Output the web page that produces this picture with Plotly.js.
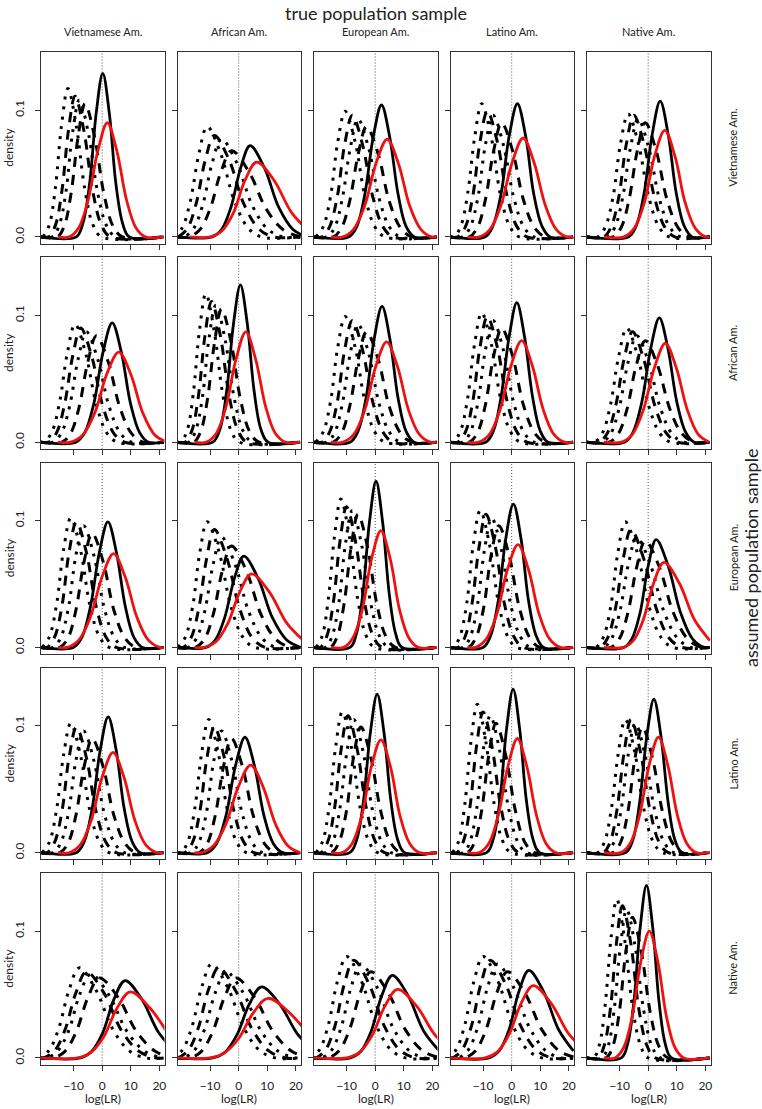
<!DOCTYPE html>
<html><head><meta charset="utf-8">
<script src="https://cdn.plot.ly/plotly-3.0.1.min.js"></script>
<style>html,body{margin:0;padding:0;background:#fff}#chart{width:762px;height:1109px}</style>
</head><body><div id="chart"></div>
<script>
// populations (columns = true population sample, rows = assumed population sample)
const populations = ["Vietnamese Am.", "African Am.", "European Am.", "Latino Am.", "Native Am."];
const xTickVals = [-10, 0, 10, 20];
const yTickVals = [0, 0.1];
const yTickText = ["0.0", "0.1"];

// Curves per panel, panel index = row*5 + col (row = assumed, col = true)
// leftmost dotted curve
const dot1X = [
[-20.7,-18.5,-16.4,-14.2,-12,-9.1,-6.1,-3.2,-0.2,21.5],
[-22.7,-19.8,-16.9,-13.9,-11,-6.3,-1.5,3.3,8,21.5],
[-20.8,-18.2,-15.6,-13.1,-10.5,-7,-3.6,-0.1,3.4,21.5],
[-21.5,-20.2,-17.8,-15.4,-12.9,-10.5,-7.2,-4,-0.7,2.6,21.5],
[-21.5,-17.6,-15,-12.3,-9.7,-7,-3.4,0.2,3.8,7.3,21.5],
[-21.5,-20.4,-17.7,-15,-12.2,-9.5,-5.8,-2.1,1.6,5.3,21.5],
[-21.5,-20.2,-18,-15.9,-13.7,-11.5,-8.6,-5.6,-2.7,0.3,21.5],
[-20.8,-18.2,-15.6,-13.1,-10.5,-7,-3.6,-0.1,3.4,21.5],
[-21.5,-20.5,-18,-15.5,-13,-10.5,-7.1,-3.8,-0.4,3,21.5],
[-21.5,-18.8,-16,-13.2,-10.3,-7.5,-3.7,0.1,4,7.8,21.5],
[-21,-18.5,-16,-13.5,-11,-7.6,-4.3,-0.9,2.5,21.5],
[-21.3,-18.7,-16.1,-13.6,-11,-6.8,-2.7,1.5,5.7,21.5],
[-20.7,-18.5,-16.4,-14.2,-12,-9.1,-6.1,-3.2,-0.2,21.5],
[-21.5,-20.4,-18.1,-15.7,-13.4,-11,-7.8,-4.6,-1.4,1.8,21.5],
[-21.5,-18.3,-15.7,-13.1,-10.6,-8,-3.8,0.3,4.5,8.7,21.5],
[-21,-18.5,-16,-13.5,-11,-7.6,-4.3,-0.9,2.5,21.5],
[-21.5,-20.2,-17.8,-15.4,-12.9,-10.5,-7.2,-4,-0.7,2.6,21.5],
[-20.7,-18.4,-16.1,-13.8,-11.5,-8.4,-5.3,-2.2,0.9,21.5],
[-20.7,-18.5,-16.4,-14.2,-12,-9.1,-6.1,-3.2,-0.2,21.5],
[-21.5,-17.7,-15.3,-12.9,-10.4,-8,-4.7,-1.5,1.8,5.1,21.5],
[-22.3,-18.7,-15.2,-11.6,-8,-2.2,3.6,9.4,15.3,21.5],
[-23.2,-19.8,-16.4,-12.9,-9.5,-3.9,1.7,7.3,12.8,21.5],
[-22.7,-19.5,-16.4,-13.2,-10,-4.8,0.3,5.5,10.6,21.5],
[-22.7,-19.5,-16.4,-13.2,-10,-4.8,0.3,5.5,10.6,21.5],
[-21.5,-19.1,-17.1,-15.1,-13,-11,-8.3,-5.5,-2.7,0,21.5]
];
const dot1Y = [
[0,.0094,.038,.0883,.117,.0883,.038,.0094,0,0],
[0,.007,.0283,.0657,.087,.0657,.0283,.007,0,0],
[0,.0079,.0322,.0747,.099,.0747,.0322,.0079,0,0],
[0,0,.0084,.0341,.0793,.105,.0793,.0341,.0084,0,0],
[0,0,.0078,.0315,.0732,.097,.0732,.0315,.0078,0,0],
[0,0,.0074,.0302,.0702,.093,.0702,.0302,.0074,0,0],
[0,0,.0094,.038,.0883,.117,.0883,.038,.0094,0,0],
[0,.0079,.0322,.0747,.099,.0747,.0322,.0079,0,0],
[0,0,.0082,.0332,.077,.102,.077,.0332,.0082,0,0],
[0,0,.0072,.0293,.068,.09,.068,.0293,.0072,0,0],
[0,.0082,.0332,.077,.102,.077,.0332,.0082,0,0],
[0,.0079,.0322,.0747,.099,.0747,.0322,.0079,0,0],
[0,.0094,.038,.0883,.117,.0883,.038,.0094,0,0],
[0,0,.0086,.0351,.0815,.108,.0815,.0351,.0086,0,0],
[0,0,.0079,.0322,.0747,.099,.0747,.0322,.0079,0,0],
[0,.0082,.0332,.077,.102,.077,.0332,.0082,0,0],
[0,0,.0084,.0341,.0793,.105,.0793,.0341,.0084,0,0],
[0,.0089,.0361,.0838,.111,.0838,.0361,.0089,0,0],
[0,.0094,.038,.0883,.117,.0883,.038,.0094,0,0],
[0,0,.0084,.0341,.0793,.105,.0793,.0341,.0084,0,0],
[0,.0057,.0231,.0536,.071,.0536,.0231,.0057,0,0],
[0,.0059,.0241,.0559,.074,.0559,.0241,.0059,0,0],
[0,.0064,.026,.0604,.08,.0604,.026,.0064,0,0],
[0,.0064,.026,.0604,.08,.0604,.026,.0064,0,0],
[0,0,.01,.0406,.0944,.125,.0944,.0406,.01,0,0]
];
// first dashed curve
const dash1X = [
[-21.5,-18.7,-16.4,-14.1,-11.8,-9.5,-6.4,-3.3,-0.2,2.9,21.5],
[-21.2,-18,-14.9,-11.7,-8.5,-3.3,1.8,7,12.1,21.5],
[-21.5,-18.6,-16,-13.3,-10.7,-8,-4.4,-0.8,2.8,6.3,21.5],
[-21.5,-18.8,-16.2,-13.6,-11.1,-8.5,-5,-1.6,1.9,5.4,21.5],
[-21.5,-15.6,-13,-10.3,-7.7,-5,-1.4,2.2,5.8,9.3,21.5],
[-21.5,-18.8,-16,-13.2,-10.3,-7.5,-3.7,0.1,4,7.8,21.5],
[-21.5,-18.7,-16.4,-14.1,-11.8,-9.5,-6.4,-3.3,-0.2,2.9,21.5],
[-21.5,-18.6,-16,-13.3,-10.7,-8,-4.4,-0.8,2.8,6.3,21.5],
[-21.5,-18.8,-16.2,-13.6,-11.1,-8.5,-5,-1.6,1.9,5.4,21.5],
[-21.5,-17.2,-14.3,-11.4,-8.4,-5.5,-1.6,2.4,6.4,10.3,21.5],
[-21.5,-19.3,-16.7,-14.1,-11.6,-9,-5.5,-2.1,1.4,4.9,21.5],
[-21.5,-19.4,-16.7,-14,-11.2,-8.5,-4.1,0.4,4.8,9.3,21.5],
[-21.5,-19.2,-16.9,-14.6,-12.3,-10,-6.9,-3.8,-0.7,2.4,21.5],
[-21.5,-18.7,-16.3,-13.9,-11.4,-9,-5.7,-2.5,0.8,4.1,21.5],
[-21.5,-16.9,-14.2,-11.5,-8.7,-6,-1.6,2.9,7.3,11.8,21.5],
[-21.5,-19.3,-16.7,-14.1,-11.6,-9,-5.5,-2.1,1.4,4.9,21.5],
[-21.5,-18.8,-16.2,-13.6,-11.1,-8.5,-5,-1.6,1.9,5.4,21.5],
[-21.5,-18.9,-16.6,-14.2,-11.9,-9.5,-6.3,-3.1,0.1,3.3,21.5],
[-21.5,-19.2,-16.9,-14.6,-12.3,-10,-6.9,-3.8,-0.7,2.4,21.5],
[-21.5,-15.7,-13.3,-10.9,-8.4,-6,-2.7,0.6,3.8,7.1,21.5],
[-21.5,-20.5,-16.7,-13,-9.2,-5.5,0.6,6.6,12.7,18.9,21.5],
[-21.5,-21.3,-17.7,-14.2,-10.6,-7,-1.2,4.6,10.4,16.3,21.5],
[-21.5,-20.7,-17.4,-14.1,-10.8,-7.5,-2.1,3.2,8.6,14,21.5],
[-21.5,-20.7,-17.4,-14.1,-10.8,-7.5,-2.1,3.2,8.6,14,21.5],
[-21.5,-17.5,-15.4,-13.2,-11.1,-9,-6.1,-3.3,-0.4,2.5,21.5]
];
const dash1Y = [
[0,0,.0089,.0361,.0838,.111,.0838,.0361,.0089,0,0],
[0,.0064,.026,.0604,.08,.0604,.026,.0064,0,0],
[0,0,.0077,.0312,.0725,.096,.0725,.0312,.0077,0,0],
[0,0,.0079,.0322,.0747,.099,.0747,.0322,.0079,0,0],
[0,0,.0077,.0312,.0725,.096,.0725,.0312,.0077,0,0],
[0,0,.0072,.0293,.068,.09,.068,.0293,.0072,0,0],
[0,0,.0089,.0361,.0838,.111,.0838,.0361,.0089,0,0],
[0,0,.0077,.0312,.0725,.096,.0725,.0312,.0077,0,0],
[0,0,.0079,.0322,.0747,.099,.0747,.0322,.0079,0,0],
[0,0,.007,.0283,.0657,.087,.0657,.0283,.007,0,0],
[0,0,.0079,.0322,.0747,.099,.0747,.0322,.0079,0,0],
[0,0,.0074,.0302,.0702,.093,.0702,.0302,.0074,0,0],
[0,0,.0089,.0361,.0838,.111,.0838,.0361,.0089,0,0],
[0,0,.0084,.0341,.0793,.105,.0793,.0341,.0084,0,0],
[0,0,.0074,.0302,.0702,.093,.0702,.0302,.0074,0,0],
[0,0,.0079,.0322,.0747,.099,.0747,.0322,.0079,0,0],
[0,0,.0079,.0322,.0747,.099,.0747,.0322,.0079,0,0],
[0,0,.0086,.0351,.0815,.108,.0815,.0351,.0086,0,0],
[0,0,.0089,.0361,.0838,.111,.0838,.0361,.0089,0,0],
[0,0,.0084,.0341,.0793,.105,.0793,.0341,.0084,0,0],
[0,0,.0054,.0221,.0513,.068,.0513,.0221,.0054,0,0],
[0,0,.0057,.0231,.0536,.071,.0536,.0231,.0057,0,0],
[0,0,.0062,.025,.0581,.077,.0581,.025,.0062,0,0],
[0,0,.0062,.025,.0581,.077,.0581,.025,.0062,0,0],
[0,0,.0096,.039,.0906,.12,.0906,.039,.0096,0,0]
];
// second dotted curve
const dot2X = [
[-21.5,-17.4,-15.1,-12.7,-10.4,-8,-4.8,-1.6,1.6,4.8,21.5],
[-21.5,-19.2,-15.9,-12.6,-9.3,-6,-0.6,4.7,10.1,15.5,21.5],
[-21.5,-16.9,-14.2,-11.5,-8.7,-6,-2.3,1.4,5.1,8.8,21.5],
[-21.5,-17.1,-14.5,-11.8,-9.2,-6.5,-2.9,0.7,4.3,7.8,21.5],
[-21.5,-14.4,-11.7,-9,-6.2,-3.5,0.2,3.9,7.6,11.3,21.5],
[-21.5,-17.2,-14.3,-11.4,-8.4,-5.5,-1.6,2.4,6.4,10.3,21.5],
[-21.5,-17.4,-15.1,-12.7,-10.4,-8,-4.8,-1.6,1.6,4.8,21.5],
[-21.5,-16.9,-14.2,-11.5,-8.7,-6,-2.3,1.4,5.1,8.8,21.5],
[-21.5,-17.1,-14.5,-11.8,-9.2,-6.5,-2.9,0.7,4.3,7.8,21.5],
[-21.5,-16.1,-13.1,-10.1,-7,-4,0.1,4.2,8.3,12.4,21.5],
[-21.5,-17.1,-14.5,-11.8,-9.2,-6.5,-2.9,0.7,4.3,7.8,21.5],
[-21.5,-17.7,-14.8,-11.9,-8.9,-6,-1.3,3.5,8.3,13,21.5],
[-21.5,-17.4,-15.1,-12.7,-10.4,-8,-4.8,-1.6,1.6,4.8,21.5],
[-21.5,-17,-14.5,-12,-9.5,-7,-3.6,-0.3,3.1,6.5,21.5],
[-21.5,-15.7,-12.8,-9.9,-6.9,-4,0.7,5.5,10.3,15,21.5],
[-21.5,-17.1,-14.5,-11.8,-9.2,-6.5,-2.9,0.7,4.3,7.8,21.5],
[-21.5,-16.6,-14,-11.3,-8.7,-6,-2.4,1.2,4.8,8.3,21.5],
[-21.5,-17.2,-14.8,-12.4,-9.9,-7.5,-4.2,-1,2.3,5.6,21.5],
[-21.5,-16.9,-14.6,-12.2,-9.9,-7.5,-4.3,-1.1,2.1,5.3,21.5],
[-21.5,-14.5,-12,-9.5,-7,-4.5,-1.1,2.3,5.6,9,21.5],
[-21.5,-19.4,-15.6,-11.7,-7.9,-4,2.3,8.5,14.8,21.1,21.5],
[-21.5,-19.5,-15.7,-12,-8.2,-4.5,1.6,7.6,13.7,19.9,21.5],
[-21.5,-18.7,-15.3,-11.9,-8.4,-5,0.6,6.2,11.8,17.3,21.5],
[-21.5,-18.7,-15.3,-11.9,-8.4,-5,0.6,6.2,11.8,17.3,21.5],
[-21.5,-16.2,-14,-11.9,-9.7,-7.5,-4.6,-1.6,1.3,4.3,21.5]
];
const dot2Y = [
[0,0,.0086,.0351,.0815,.108,.0815,.0351,.0086,0,0],
[0,0,.0062,.025,.0581,.077,.0581,.025,.0062,0,0],
[0,0,.0074,.0302,.0702,.093,.0702,.0302,.0074,0,0],
[0,0,.0077,.0312,.0725,.096,.0725,.0312,.0077,0,0],
[0,0,.0074,.0302,.0702,.093,.0702,.0302,.0074,0,0],
[0,0,.007,.0283,.0657,.087,.0657,.0283,.007,0,0],
[0,0,.0086,.0351,.0815,.108,.0815,.0351,.0086,0,0],
[0,0,.0074,.0302,.0702,.093,.0702,.0302,.0074,0,0],
[0,0,.0077,.0312,.0725,.096,.0725,.0312,.0077,0,0],
[0,0,.0067,.0273,.0634,.084,.0634,.0273,.0067,0,0],
[0,0,.0077,.0312,.0725,.096,.0725,.0312,.0077,0,0],
[0,0,.007,.0283,.0657,.087,.0657,.0283,.007,0,0],
[0,0,.0086,.0351,.0815,.108,.0815,.0351,.0086,0,0],
[0,0,.0082,.0332,.077,.102,.077,.0332,.0082,0,0],
[0,0,.007,.0283,.0657,.087,.0657,.0283,.007,0,0],
[0,0,.0077,.0312,.0725,.096,.0725,.0312,.0077,0,0],
[0,0,.0077,.0312,.0725,.096,.0725,.0312,.0077,0,0],
[0,0,.0084,.0341,.0793,.105,.0793,.0341,.0084,0,0],
[0,0,.0086,.0351,.0815,.108,.0815,.0351,.0086,0,0],
[0,0,.0082,.0332,.077,.102,.077,.0332,.0082,0,0],
[0,0,.0053,.0215,.0498,.066,.0498,.0215,.0053,0,0],
[0,0,.0054,.0221,.0513,.068,.0513,.0221,.0054,0,0],
[0,0,.0059,.0241,.0559,.074,.0559,.0241,.0059,0,0],
[0,0,.0059,.0241,.0559,.074,.0559,.0241,.0059,0,0],
[0,0,.0094,.038,.0883,.117,.0883,.038,.0094,0,0]
];
// second dashed curve
const dash2X = [
[-21.5,-15.7,-13.3,-10.9,-8.4,-6,-2.7,0.6,3.8,7.1,21.5],
[-21.5,-17.5,-13.7,-10,-6.2,-2.5,3.6,9.6,15.7,21.9],
[-21.5,-14.7,-11.8,-8.9,-5.9,-3,1,4.9,8.9,12.8,21.5],
[-21.5,-14.8,-12,-9.2,-6.3,-3.5,0.3,4.1,8,11.8,21.5],
[-21.5,-12.3,-9.5,-6.7,-3.8,-1,2.8,6.6,10.5,14.3,21.5],
[-21.5,-14.1,-11.1,-8.1,-5,-2,2.1,6.2,10.3,14.4,21.5],
[-21.5,-15.7,-13.3,-10.9,-8.4,-6,-2.7,0.6,3.8,7.1,21.5],
[-21.5,-14.7,-11.8,-8.9,-5.9,-3,1,4.9,8.9,12.8,21.5],
[-21.5,-14.8,-12,-9.2,-6.3,-3.5,0.3,4.1,8,11.8,21.5],
[-21.5,-13.7,-10.5,-7.4,-4.2,-1,3.3,7.6,11.9,16.2,21.5],
[-21.5,-14.8,-12,-9.2,-6.3,-3.5,0.3,4.1,8,11.8,21.5],
[-21.5,-15.2,-12,-8.9,-5.7,-2.5,2.7,7.8,13,18.1,21.5],
[-21.5,-15.7,-13.3,-10.9,-8.4,-6,-2.7,0.6,3.8,7.1,21.5],
[-21.5,-15.1,-12.5,-9.8,-7.2,-4.5,-0.9,2.7,6.3,9.8,21.5],
[-21.5,-13.1,-10.1,-7.1,-4,-1,3.9,8.8,13.8,18.7,21.5],
[-21.5,-14.8,-12,-9.2,-6.3,-3.5,0.3,4.1,8,11.8,21.5],
[-21.5,-13.8,-11,-8.2,-5.3,-2.5,1.3,5.1,9,12.8,21.5],
[-21.5,-15.3,-12.7,-10.1,-7.6,-5,-1.5,2,5.4,8.9,21.5],
[-21.5,-15.5,-13,-10.5,-8,-5.5,-2.1,1.3,4.6,8,21.5],
[-21.5,-12.3,-9.7,-7.1,-4.6,-2,1.5,5,8.4,11.9,21.5],
[-21.5,-17.1,-13.1,-9.1,-5,-1,5.6,12.1,18.7,25.3],
[-21.5,-17.1,-13.1,-9.1,-5,-1,5.6,12.1,18.7,25.3],
[-21.5,-16.5,-12.7,-9,-5.2,-1.5,4.6,10.6,16.7,22.9],
[-21.5,-16.5,-12.7,-9,-5.2,-1.5,4.6,10.6,16.7,22.9],
[-21.5,-14.7,-12.4,-10.1,-7.8,-5.5,-2.4,0.7,3.8,6.9,21.5]
];
const dash2Y = [
[0,0,.0084,.0341,.0793,.105,.0793,.0341,.0084,0,0],
[0,0,.0054,.0221,.0513,.068,.0513,.0221,.0054,0],
[0,0,.007,.0283,.0657,.087,.0657,.0283,.007,0,0],
[0,0,.0072,.0293,.068,.09,.068,.0293,.0072,0,0],
[0,0,.0072,.0293,.068,.09,.068,.0293,.0072,0,0],
[0,0,.0067,.0273,.0634,.084,.0634,.0273,.0067,0,0],
[0,0,.0084,.0341,.0793,.105,.0793,.0341,.0084,0,0],
[0,0,.007,.0283,.0657,.087,.0657,.0283,.007,0,0],
[0,0,.0072,.0293,.068,.09,.068,.0293,.0072,0,0],
[0,0,.0064,.026,.0604,.08,.0604,.026,.0064,0,0],
[0,0,.0072,.0293,.068,.09,.068,.0293,.0072,0,0],
[0,0,.0064,.026,.0604,.08,.0604,.026,.0064,0,0],
[0,0,.0084,.0341,.0793,.105,.0793,.0341,.0084,0,0],
[0,0,.0077,.0312,.0725,.096,.0725,.0312,.0077,0,0],
[0,0,.0067,.0273,.0634,.084,.0634,.0273,.0067,0,0],
[0,0,.0072,.0293,.068,.09,.068,.0293,.0072,0,0],
[0,0,.0072,.0293,.068,.09,.068,.0293,.0072,0,0],
[0,0,.0079,.0322,.0747,.099,.0747,.0322,.0079,0,0],
[0,0,.0082,.0332,.077,.102,.077,.0332,.0082,0,0],
[0,0,.0079,.0322,.0747,.099,.0747,.0322,.0079,0,0],
[0,0,.005,.0205,.0476,.063,.0476,.0205,.005,0],
[0,0,.005,.0205,.0476,.063,.0476,.0205,.005,0],
[0,0,.0054,.0221,.0513,.068,.0513,.0221,.0054,0],
[0,0,.0054,.0221,.0513,.068,.0513,.0221,.0054,0],
[0,0,.0089,.0361,.0838,.111,.0838,.0361,.0089,0,0]
];
// solid black curve
const solidX = [
[-21.5,-9.1,-6.8,-4.4,-2.1,0.2,2.5,4.8,7.2,9.5,21.5],
[-21.5,-9.3,-6,-2.7,0.7,4,9,14,19,23.9],
[-21.5,-9.3,-6.4,-3.6,-0.7,2.2,5.1,8,10.8,13.7,21.5],
[-21.5,-9.4,-6.6,-3.7,-0.9,2,4.9,7.7,10.6,13.4,21.5],
[-21.5,-7,-4.2,-1.4,1.4,4.2,7,9.8,12.6,15.4,21.5],
[-21.5,-9.2,-6.1,-2.9,0.3,3.5,6.7,9.9,13.1,16.2,21.5],
[-21.5,-9.1,-6.6,-4.2,-1.8,0.6,3,5.4,7.8,10.3,21.5],
[-21.5,-8.8,-6,-3.2,-0.4,2.4,5.2,8,10.8,13.6,21.5],
[-21.5,-9.1,-6.4,-3.7,-0.9,1.8,4.5,7.3,10,12.7,21.5],
[-21.5,-8.3,-5.3,-2.2,0.9,3.9,6.9,10,13.1,16.1,21.5],
[-21.5,-10.1,-7.1,-4.1,-1,2,5,8.1,11.1,14.1,21.5],
[-21.5,-11.5,-8.2,-4.9,-1.5,1.8,6.8,11.8,16.8,21.7],
[-21.5,-8.8,-6.6,-4.3,-2,0.3,2.6,4.9,7.2,9.4,21.5],
[-21.5,-10,-7.4,-4.7,-2.1,0.6,3.3,5.9,8.6,11.2,21.5],
[-21.5,-8.5,-5.7,-2.8,0,2.8,7,11.3,15.5,19.7,21.5],
[-21.5,-9.1,-6.3,-3.5,-0.7,2.1,4.9,7.7,10.5,13.3,21.5],
[-21.5,-11,-7.7,-4.4,-1.1,2.2,5.5,8.8,12.1,15.4,21.5],
[-21.5,-8.9,-6.5,-4.1,-1.7,0.7,3.1,5.5,7.9,10.3,21.5],
[-21.5,-8.8,-6.5,-4.1,-1.8,0.5,2.8,5.1,7.5,9.8,21.5],
[-21.5,-7.9,-5.4,-3,-0.5,2,4.5,7,9.4,11.9,21.5],
[-21.5,-7.7,-3.8,0.2,4.1,8,13.9,19.8,25.7],
[-21.5,-9.1,-4.8,-0.6,3.7,8,14.4,20.8,27.2],
[-21.5,-8.7,-5,-1.4,2.3,6,11.5,17,22.6],
[-21.5,-7.9,-4.4,-0.9,2.5,6,11.2,16.4,21.6],
[-21.5,-9.4,-7.2,-5,-2.8,-0.6,1.6,3.8,6,8.2,21.5]
];
const solidY = [
[0,0,.0103,.0419,.0974,.129,.0974,.0419,.0103,0,0],
[0,0,.0058,.0234,.0544,.072,.0544,.0234,.0058,0],
[0,0,.0083,.0338,.0785,.104,.0785,.0338,.0083,0,0],
[0,0,.0084,.0341,.0793,.105,.0793,.0341,.0084,0,0],
[0,0,.0086,.0348,.0808,.107,.0808,.0348,.0086,0,0],
[0,0,.0075,.0306,.071,.094,.071,.0306,.0075,0,0],
[0,0,.0099,.0403,.0936,.124,.0936,.0403,.0099,0,0],
[0,0,.0086,.0348,.0808,.107,.0808,.0348,.0086,0,0],
[0,0,.0088,.0358,.0831,.11,.0831,.0358,.0088,0,0],
[0,0,.0078,.0319,.074,.098,.074,.0319,.0078,0,0],
[0,0,.0079,.0322,.0747,.099,.0747,.0322,.0079,0,0],
[0,0,.0058,.0234,.0544,.072,.0544,.0234,.0058,0],
[0,0,.0105,.0426,.0989,.131,.0989,.0426,.0105,0,0],
[0,0,.009,.0367,.0853,.113,.0853,.0367,.009,0,0],
[0,0,.0068,.0276,.0642,.085,.0642,.0276,.0068,0,0],
[0,0,.0086,.0348,.0808,.107,.0808,.0348,.0086,0,0],
[0,0,.0073,.0296,.0687,.091,.0687,.0296,.0073,0,0],
[0,0,.01,.0406,.0944,.125,.0944,.0406,.01,0,0],
[0,0,.0103,.0419,.0974,.129,.0974,.0419,.0103,0,0],
[0,0,.0097,.0393,.0914,.121,.0914,.0393,.0097,0,0],
[0,0,.0049,.0198,.0461,.061,.0461,.0198,.0049],
[0,0,.0045,.0182,.0423,.056,.0423,.0182,.0045],
[0,0,.0052,.0211,.0491,.065,.0491,.0211,.0052],
[0,0,.0055,.0224,.0521,.069,.0521,.0224,.0055],
[0,0,.0109,.0442,.1027,.136,.1027,.0442,.0109,0,0]
];
// red curve
const redX = [
[-15.5,-11.5,-8.2,-4.9,-1.5,1.8,5.1,8.5,11.8,15.1,21.5],
[-17,-9.9,-5.9,-1.8,2.2,6.3,12.4,18.5,24.6],
[-15.5,-11.3,-7.5,-3.6,0.3,4.2,8.1,12,15.9,19.7,21.5],
[-15.5,-11.3,-7.5,-3.7,0.2,4,7.8,11.7,15.5,19.3,21.5],
[-15.5,-8.5,-4.9,-1.3,2.2,5.8,9.4,12.9,16.5,20.1,21.5],
[-15.5,-11.1,-6.8,-2.6,1.6,5.8,10,14.2,18.4,22.7],
[-15.5,-11.3,-7.8,-4.4,-0.9,2.5,5.9,9.4,12.8,16.3,21.5],
[-15.5,-11.2,-7.4,-3.6,0.2,4,7.8,11.6,15.4,19.2,21.5],
[-15.5,-11.5,-7.7,-4,-0.2,3.5,7.2,11,14.7,18.5,21.5],
[-15.5,-9.3,-5.5,-1.7,2.2,6,9.8,13.7,17.5,21.3],
[-15.5,-12.2,-8.1,-4.1,0,4,8,12.1,16.1,20.2,21.5],
[-15.5,-12,-7.9,-3.8,0.4,4.5,10.7,16.9,23.1],
[-15.5,-11,-7.8,-4.5,-1.3,2,5.3,8.5,11.8,15,21.5],
[-15.5,-12.6,-8.9,-5.2,-1.5,2.2,5.9,9.6,13.3,17,21.5],
[-15.5,-8.8,-5.2,-1.7,1.9,5.5,10.9,16.2,21.6],
[-15.5,-11.4,-7.6,-3.8,0,3.8,7.6,11.4,15.2,19,21.5],
[-15.5,-13.1,-8.8,-4.5,-0.1,4.2,8.5,12.9,17.2,21.5],
[-15.5,-11.5,-8.1,-4.7,-1.4,2,5.4,8.7,12.1,15.5,21.5],
[-15.5,-11.3,-8,-4.7,-1.3,2,5.3,8.7,12,15.3,21.5],
[-15.5,-9.6,-6.3,-3,0.3,3.6,6.9,10.2,13.5,16.8,21.5],
[-21.5,-8.6,-4,0.6,5.2,9.8,16.7,23.6],
[-21.5,-10.2,-5.1,0,5.1,10.2,17.8,25.5],
[-21.5,-9.9,-5.5,-1.1,3.4,7.8,14.5,21.1,27.7],
[-21.5,-9.3,-5.1,-0.9,3.3,7.5,13.8,20.1,26.4],
[-15.5,-11.6,-8.6,-5.6,-2.6,0.4,3.4,6.4,9.4,12.4,21.5]
];
const redY = [
[0,0,.0072,.0293,.068,.09,.068,.0293,.0072,0,0],
[0,0,.0047,.0192,.0445,.059,.0445,.0192,.0047],
[0,0,.0062,.025,.0581,.077,.0581,.025,.0062,0,0],
[0,0,.0062,.0254,.0589,.078,.0589,.0254,.0062,0,0],
[0,0,.0067,.0273,.0634,.084,.0634,.0273,.0067,0,0],
[0,0,.0057,.0231,.0536,.071,.0536,.0231,.0057,0],
[0,0,.007,.0283,.0657,.087,.0657,.0283,.007,0,0],
[0,0,.0063,.0257,.0596,.079,.0596,.0257,.0063,0,0],
[0,0,.0064,.026,.0604,.08,.0604,.026,.0064,0,0],
[0,0,.0062,.0254,.0589,.078,.0589,.0254,.0062,0],
[0,0,.0059,.0241,.0559,.074,.0559,.0241,.0059,0,0],
[0,0,.0046,.0189,.0438,.058,.0438,.0189,.0046],
[0,0,.0074,.0299,.0695,.092,.0695,.0299,.0074,0,0],
[0,0,.0065,.0263,.0612,.081,.0612,.0263,.0065,0,0],
[0,0,.0054,.0218,.0506,.067,.0506,.0218,.0054],
[0,0,.0063,.0257,.0596,.079,.0596,.0257,.0063,0,0],
[0,0,.0055,.0224,.0521,.069,.0521,.0224,.0055,0],
[0,0,.0071,.0289,.0672,.089,.0672,.0289,.0071,0,0],
[0,0,.0072,.0293,.068,.09,.068,.0293,.0072,0,0],
[0,0,.0073,.0296,.0687,.091,.0687,.0296,.0073,0,0],
[0,0,.0042,.0169,.0393,.052,.0393,.0169],
[0,0,.0038,.0153,.0355,.047,.0355,.0153],
[0,0,.0043,.0176,.0408,.054,.0408,.0176,.0043],
[0,0,.0046,.0185,.043,.057,.043,.0185,.0046],
[0,0,.008,.0325,.0755,.1,.0755,.0325,.008,0,0]
];

// ---------- layout (pixel geometry of the figure) ----------
const W = 762, H = 1109;
const colLeft = [41, 177.5, 314, 450.5, 587], panelW = 123.5;
const rowTop = [52, 257.25, 462.5, 667.75, 873], panelH = 191.5;
const FONT = 'Lato, "Open Sans", "Noto Sans", sans-serif';

const curveStyles = [
  {X: dot1X, Y: dot1Y, line: {color: '#000', width: 3, dash: '3px,7px'}},
  {X: dash1X, Y: dash1Y, line: {color: '#000', width: 3, dash: '10px,8px'}},
  {X: dot2X, Y: dot2Y, line: {color: '#000', width: 3, dash: '3px,7px'}},
  {X: dash2X, Y: dash2Y, line: {color: '#000', width: 3, dash: '10px,8px'}},
  {X: solidX, Y: solidY, line: {color: '#000', width: 2.8}},
  {X: redX, Y: redY, line: {color: '#ee1111', width: 2.8}}
];

const traces = [];
const layout = {
  width: W, height: H, margin: {l: 0, r: 0, t: 0, b: 0},
  paper_bgcolor: '#fff', plot_bgcolor: '#fff', showlegend: false,
  font: {family: FONT, color: '#222', size: 12},
  shapes: [], annotations: []
};

for (let r = 0; r < 5; r++) {
  for (let c = 0; c < 5; c++) {
    const p = r * 5 + c, k = p + 1, sfx = k === 1 ? '' : String(k);
    const xa = 'x' + sfx, ya = 'y' + sfx;
    curveStyles.forEach(s => {
      traces.push({type: 'scatter', mode: 'lines', x: s.X[p], y: s.Y[p], xaxis: xa, yaxis: ya,
        line: Object.assign({shape: 'spline', smoothing: 1}, s.line), hoverinfo: 'skip'});
    });
    layout['xaxis' + sfx] = {
      domain: [colLeft[c] / W, (colLeft[c] + panelW) / W], anchor: ya,
      range: [-21.4, 21.8], tickvals: xTickVals, ticks: 'outside', ticklen: 5, tickwidth: 1, tickcolor: '#333',
      showticklabels: r === 4, ticklabelstandoff: 5, tickfont: {size: 12, family: FONT, color: '#222'},
      showgrid: false, zeroline: false, showline: true, mirror: true, linecolor: '#333', linewidth: 1
    };
    layout['yaxis' + sfx] = {
      domain: [1 - (rowTop[r] + panelH) / H, 1 - rowTop[r] / H], anchor: xa,
      range: [-0.0052, 0.1458], tickvals: yTickVals, ticktext: yTickText, tickangle: -90,
      ticks: 'outside', ticklen: 5, tickwidth: 1, tickcolor: '#333',
      showticklabels: c === 0, ticklabelstandoff: 6, tickfont: {size: 12, family: FONT, color: '#222'},
      showgrid: false, zeroline: false, showline: true, mirror: true, linecolor: '#333', linewidth: 1
    };
    layout.shapes.push({type: 'line', xref: xa, yref: ya + ' domain', x0: 0, x1: 0, y0: 0, y1: 1,
      line: {color: '#555', width: 1, dash: '1px,2px'}, layer: 'below'});
  }
}

const ann = (text, px, py, size, angle) => ({
  text: text, xref: 'paper', yref: 'paper', x: px / W, y: 1 - py / H,
  xanchor: 'center', yanchor: 'middle', showarrow: false, textangle: angle || 0,
  font: {family: FONT, size: size, color: '#222'}
});
layout.annotations.push(ann('true population sample', 376, 13, 18));
layout.annotations.push(ann('assumed population sample', 751, 558, 18, -90));
for (let i = 0; i < 5; i++) {
  layout.annotations.push(ann(populations[i], colLeft[i] + panelW / 2, 32, 11));
  layout.annotations.push(ann(populations[i], 733, rowTop[i] + panelH / 2, 11, -90));
  layout.annotations.push(ann('density', 9, rowTop[i] + panelH / 2, 12, -90));
  layout.annotations.push(ann('log(LR)', colLeft[i] + panelW / 2, 1098, 12));
}

Plotly.newPlot('chart', traces, layout, {displayModeBar: false, staticPlot: true});
</script></body></html>
